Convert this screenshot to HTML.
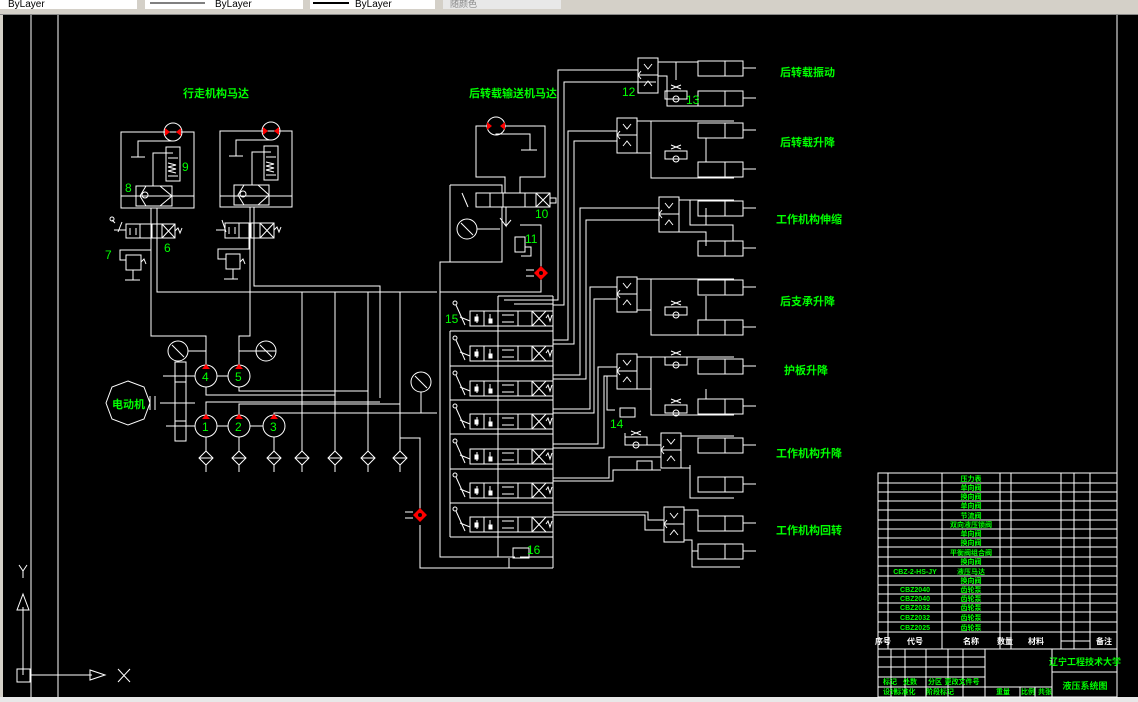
<!DOCTYPE html>
<html><head><meta charset="utf-8"><style>
html,body{margin:0;padding:0;background:#000;width:1138px;height:702px;overflow:hidden}
svg{display:block}
text{font-family:"Liberation Sans","Noto Sans CJK SC",sans-serif}
</style></head><body>
<svg width="1138" height="702" viewBox="0 0 1138 702" xmlns="http://www.w3.org/2000/svg">
<defs>
<g id="valve" fill="none" stroke="#fff">
 <rect x="0" y="0" width="83" height="15"/>
 <line x1="14" y1="0" x2="14" y2="15"/><line x1="28" y1="0" x2="28" y2="15"/>
 <line x1="48" y1="0" x2="48" y2="15"/><line x1="62" y1="0" x2="62" y2="15"/>
 <line x1="62" y1="0" x2="76" y2="15"/><line x1="76" y1="0" x2="62" y2="15"/>
 <line x1="7" y1="3" x2="7" y2="12"/><line x1="20" y1="3" x2="20" y2="12"/>
 <rect x="5" y="6" width="3" height="4" fill="#fff"/><rect x="19" y="8" width="3" height="4" fill="#fff"/>
 <line x1="32" y1="4" x2="44" y2="4"/><line x1="32" y1="11" x2="44" y2="11"/>
 <path d="M76 7 l2 -3 l2 6 l2 -6"/>
 <line x1="-14" y1="-6" x2="-5" y2="14"/><line x1="-10" y1="6" x2="0" y2="10"/>
 <circle cx="-15" cy="-8" r="2"/>
</g>
<g id="cyl" fill="none" stroke="#fff">
 <rect x="0" y="0" width="27" height="15"/><rect x="27" y="0" width="18" height="15"/>
 <line x1="45" y1="7" x2="58" y2="7"/>
</g>
<g id="shut" fill="none" stroke="#fff">
 <rect x="0" y="0" width="20" height="35"/><line x1="0" y1="17" x2="20" y2="17"/>
 <path d="M6 6 l4 5 l4 -5 M6 28 l4 -5 l4 5 M0 17 l3 -4 M0 17 l3 4"/>
</g>
<g id="chk" fill="none" stroke="#fff">
 <path d="M0 0 h22 v8 h-22 z M6 -6 l10 4 M6 -2 l10 -4"/><circle cx="11" cy="8" r="3"/>
</g>
<g id="filt" fill="none" stroke="#fff">
 <path d="M0 -7 L7 0 L0 7 L-7 0 Z M-7 0 H7 M0 7 V14"/>
</g>
<g id="gauge" fill="none" stroke="#fff">
 <circle r="10"/><line x1="-6" y1="-6" x2="6" y2="6"/>
</g>
</defs>

<rect x="0" y="0" width="1138" height="14" fill="#d4d0c8"/>
<rect x="0" y="0" width="137" height="9" fill="#fff"/><text x="8" y="7" font-size="10" fill="#000">ByLayer</text>
<rect x="145" y="0" width="158" height="9" fill="#fff"/><line x1="150" y1="3" x2="205" y2="3" stroke="#000"/><text x="215" y="7" font-size="10" fill="#000">ByLayer</text>
<rect x="310" y="0" width="125" height="9" fill="#fff"/><rect x="313" y="2" width="36" height="2" fill="#000"/><text x="355" y="7" font-size="10" fill="#000">ByLayer</text>
<rect x="443" y="0" width="118" height="9" fill="#e8e8e8"/><text x="450" y="7" font-size="9" fill="#888">随颜色</text>
<rect x="0" y="14" width="3" height="688" fill="#d4d0c8"/>
<rect x="0" y="14" width="1138" height="1" fill="#888"/>
<rect x="0" y="697" width="1138" height="5" fill="#e8e8e8"/>

<g stroke="#fff" fill="none" stroke-width="1">
<line x1="31" y1="15" x2="31" y2="697"/>
<line x1="58" y1="15" x2="58" y2="697"/>
<line x1="1117" y1="15" x2="1117" y2="697"/>
<line x1="23" y1="675" x2="23" y2="607"/><path d="M23 594 l-6 16 h12 z"/>
<rect x="17" y="669" width="13" height="13"/><line x1="30" y1="675" x2="92" y2="675"/><path d="M105 675 l-15 -5 v10 z"/>
<path d="M19 565 l4 6 l4 -6 M23 571 v7 M118 669 l12 13 M130 669 l-12 13"/>

<rect x="121" y="132" width="73" height="76"/><line x1="121" y1="196" x2="194" y2="196"/>
<circle cx="173" cy="132" r="9"/>
<rect x="136" y="186" width="36" height="20"/><path d="M160 186 l12 10 l-12 10 M146 186 l-6 10 l6 10"/><circle cx="145" cy="195" r="3"/>
<rect x="166" y="147" width="14" height="34"/><path d="M168 158 h10 M168 163 l8 2 l-8 2 l8 2 l-8 2 l8 2 M168 176 h10"/>
<path d="M173 141 H138 V157 M131 157 H145 M173 153 H153 V186"/>
<rect x="220" y="131" width="72" height="76"/><line x1="220" y1="196" x2="292" y2="196"/>
<circle cx="271" cy="131" r="9"/>
<rect x="234" y="185" width="35" height="20"/><path d="M258 185 l11 10 l-11 10 M244 185 l-6 10 l6 10"/><circle cx="243" cy="194" r="3"/>
<rect x="264" y="146" width="14" height="34"/><path d="M266 157 h10 M266 162 l8 2 l-8 2 l8 2 l-8 2 l8 2 M266 175 h10"/>
<path d="M271 140 H236 V156 M229 156 H243 M271 152 H252 V185"/>
<rect x="126" y="224" width="49" height="14"/><path d="M140 224 V238 M152 224 V238 M162 224 V238 M162 224 L175 238 M175 224 L162 238 M130 228 V235 M136 228 V235 M175 231 l3 -3 l2 5 l2 -5"/>
<path d="M122 222 L118 232 M114 230 H126 M112 220 l3 3"/><circle cx="112" cy="219" r="2"/>
<rect x="225" y="223" width="49" height="15"/><path d="M239 223 V238 M251 223 V238 M260 223 V238 M260 223 L274 238 M274 223 L260 238 M229 227 V234 M235 227 V234 M274 230 l3 -3 l2 5 l2 -5"/>
<path d="M222 220 L226 232 M216 230 H225"/>
<rect x="126" y="255" width="15" height="15"/><path d="M133 270 V280 M125 280 H140 M126 260 H120 V250 H151 V224 M141 262 l3 -3 l2 5"/>
<rect x="226" y="254" width="14" height="15"/><path d="M233 269 V279 M224 279 H238 M226 259 H218 V249 H249 V223 M240 262 l3 -3 l2 5"/>
<path d="M151 208 V336 H206 V365 M157 208 V292 H437"/>
<path d="M250 207 V336 H239 V365 M254 207 V286 H380 V398"/>
<path d="M302 292 V451 M335 292 V451 M368 292 V451 M400 292 V451"/>
<path d="M206 387 V395 H335 V410 M239 387 V391 H368 V410 M206 415 V402 H380 M239 415 V404 H400 V410 M274 415 V413 H437 M421 392 V413 M400 438 H420 V515"/>
<path d="M206 437 V451 M239 437 V451 M274 437 V451"/>
<path d="M188 351 H206 M276 351 H239 V336"/>
<circle cx="206" cy="376" r="11"/><circle cx="239" cy="376" r="11"/>
<circle cx="206" cy="426" r="11"/><circle cx="239" cy="426" r="11"/><circle cx="274" cy="426" r="11"/>
<path d="M217 376 H228 M217 426 H228 M250 426 H263 M163 376 H195 M166 426 H195 M160 403 H195"/>
<rect x="175" y="362" width="11" height="79"/><path d="M175 382 H186 M175 421 H186"/>
<polygon points="128,381 144,387 150,403 144,419 128,425 112,419 106,403 112,387"/>
<path d="M150 396 V410 M155 396 V410"/>
<use href="#gauge" x="178" y="351"/><use href="#gauge" x="266" y="351"/><use href="#gauge" x="421" y="382"/>
<use href="#filt" x="206" y="458"/><use href="#filt" x="239" y="458"/><use href="#filt" x="274" y="458"/>
<use href="#filt" x="302" y="458"/><use href="#filt" x="335" y="458"/><use href="#filt" x="368" y="458"/><use href="#filt" x="400" y="458"/>

<circle cx="496" cy="126" r="9"/>
<path d="M487 126 H476 V177 H505 V193 M505 126 H545 V177 H520 V193 M496 135 V134 H530 V150 M521 150 H537"/>
<rect x="476" y="193" width="74" height="14"/><path d="M490 193 V207 M503 193 V207 M525 193 V207 M536 193 V207 M536 193 L550 207 M550 193 L536 207 M550 198 h6 v5 h-6"/>
<path d="M462 193 l6 14 M450 185 H502 V193 M450 185 V262 M502 207 V262 H440 V557 H470 M506 207 V226 L500 218 M506 226 l5 -6"/>
<use href="#gauge" x="467" y="229"/><path d="M477 229 H500"/>
<rect x="515" y="237" width="10" height="15"/><path d="M520 225 H541 V268 M525 247 h6 v9 h-10 M440 292 H541 V278"/>
<use href="#valve" x="470" y="311"/><use href="#valve" x="470" y="346"/><use href="#valve" x="470" y="381"/>
<use href="#valve" x="470" y="414"/><use href="#valve" x="470" y="449"/><use href="#valve" x="470" y="483"/><use href="#valve" x="470" y="517"/>
<path d="M450 331 V537 M450 331 H553 M450 366 H553 M450 400 H553 M450 434 H553 M450 469 H553 M450 503 H553 M450 537 H553 M498 296 V557 M553 296 V568 M498 296 H553 M504 300 H553 M514 304 H553 M440 557 H515 M520 557 H553"/>
<rect x="513" y="548" width="16" height="10"/><path d="M509 558 V568 H520 M420 525 V568 H553"/>
<path d="M553 300 H558 V70 H638 M553 305 H564 V82 H656"/>
<path d="M553 340 H568 V131 H617 M553 344 H574 V141 H617"/>
<path d="M553 375 H580 V208 H659 M553 379 H586 V220 H659"/>
<path d="M553 409 H590 V287 H617 M553 413 H594 V299 H617"/>
<path d="M553 444 H598 V367 H617 M553 448 H604 V376 H617 M607 376 V410 H615"/>
<path d="M553 478 H609 V457 H661 M553 481 H613 V470 H661"/>
<path d="M553 512 H648 V520 H664 M553 515 H645 V530 H664"/>
<use href="#shut" x="638" y="58"/><use href="#shut" x="617" y="118"/><use href="#shut" x="659" y="197"/>
<use href="#shut" x="617" y="277"/><use href="#shut" x="617" y="354"/><use href="#shut" x="661" y="433"/><use href="#shut" x="664" y="507"/>
<use href="#cyl" x="698" y="61"/><use href="#cyl" x="698" y="91"/>
<use href="#cyl" x="698" y="123"/><use href="#cyl" x="698" y="162"/>
<use href="#cyl" x="698" y="201"/><use href="#cyl" x="698" y="241"/>
<use href="#cyl" x="698" y="280"/><use href="#cyl" x="698" y="320"/>
<use href="#cyl" x="698" y="359"/><use href="#cyl" x="698" y="399"/>
<use href="#cyl" x="698" y="438"/><use href="#cyl" x="698" y="477"/>
<use href="#cyl" x="698" y="516"/><use href="#cyl" x="698" y="544"/>
<path d="M658 62 H698 M658 76 H667 V106 H740 M676 62 V80"/>
<path d="M637 121 H734 M651 121 V153 H637 M651 128 V178 H734 M706 138 V162"/>
<path d="M679 200 H734 M679 232 H706 V246 M690 200 V225 H706 V208 M706 225 H733 V241"/>
<path d="M637 279 H734 M651 279 V310 H637 M651 310 V335 H734 M706 296 V320"/>
<path d="M637 357 H734 M651 357 V389 H637 M651 389 V415 H734 M706 389 V399"/>
<path d="M681 436 H734 M681 468 H690 V498 H734 M690 465 V484 M661 445 H625 V433"/>
<path d="M684 510 H698 V523 M684 540 H692 V551 H698 M692 540 V567 H740"/>
<use href="#chk" x="665" y="91"/><use href="#chk" x="665" y="151"/><use href="#chk" x="665" y="307"/>
<use href="#chk" x="665" y="357"/><use href="#chk" x="665" y="405"/><use href="#chk" x="625" y="437"/>
<rect x="620" y="408" width="15" height="9"/><rect x="637" y="461" width="15" height="9"/>

<rect x="878" y="473" width="239" height="224"/>
<path d="M878 483H1117M878 492H1117M878 501H1117M878 510H1117M878 520H1117M878 529H1117M878 538H1117M878 547H1117M878 557H1117M878 566H1117M878 576H1117M878 585H1117M878 594H1117M878 603H1117M878 612H1117M878 622H1117M878 632H1117M878 649H1117"/>
<path d="M888 473V649M942 473V649M1000 473V649M1011 473V649M1061 473V649M1074 473V649M1090 473V649M1061 641H1090"/>
<path d="M985 649V697M1052 649V697M1052 672H1117M878 657H985M878 667H985M878 677H985M878 687H985M985 687H1052M891 649V697M905 649V697M926 649V697M948 649V697M963 649V697M1020 687V697M1035 687V697"/>
</g>

<g fill="#f00">
<path d="M165 128 l5 4 l-5 4 z M181 128 l-5 4 l5 4 z M263 127 l5 4 l-5 4 z M279 127 l-5 4 l5 4 z"/>
<path d="M487 122 l5 4 l-5 4 z M505 122 l-5 4 l5 4 z"/>
<path d="M541 266 l7 7 l-7 7 l-7 -7 z M420 508 l7 7 l-7 7 l-7 -7 z"/>
<path d="M202 369 l4 -5 l4 5 z M235 369 l4 -5 l4 5 z M202 419 l4 -5 l4 5 z M235 419 l4 -5 l4 5 z M270 419 l4 -5 l4 5 z"/>
</g>
<circle cx="541" cy="273" r="2" fill="#000"/><circle cx="420" cy="515" r="2" fill="#000"/>
<path d="M526 270 h8 M526 276 h8 M405 512 h8 M405 518 h8" stroke="#fff"/>

<g fill="#00ff00" font-weight="bold">
<text x="183" y="97" font-size="11">行走机构马达</text>
<text x="469" y="97" font-size="11">后转载输送机马达</text>
<text x="780" y="76" font-size="11">后转载振动</text>
<text x="780" y="146" font-size="11">后转载升降</text>
<text x="776" y="223" font-size="11">工作机构伸缩</text>
<text x="780" y="305" font-size="11">后支承升降</text>
<text x="784" y="374" font-size="11">护板升降</text>
<text x="776" y="457" font-size="11">工作机构升降</text>
<text x="776" y="534" font-size="11">工作机构回转</text>
<text x="112" y="408" font-size="11">电动机</text>
<g font-size="12" font-family="Liberation Serif,serif" font-weight="normal">
<text x="182" y="171">9</text><text x="125" y="192">8</text><text x="105" y="259">7</text><text x="164" y="252">6</text>
<text x="535" y="218">10</text><text x="525" y="243">11</text><text x="622" y="96">12</text><text x="686" y="104">13</text>
<text x="610" y="428">14</text><text x="445" y="323">15</text><text x="527" y="554">16</text>
<text x="202" y="381">4</text><text x="235" y="381">5</text><text x="202" y="431">1</text><text x="235" y="431">2</text><text x="270" y="431">3</text>
</g>
<g font-size="7" text-anchor="middle">
<text x="971" y="481">压力表</text><text x="971" y="490">单向阀</text><text x="971" y="499">换向阀</text><text x="971" y="508">单向阀</text>
<text x="971" y="518">节流阀</text><text x="971" y="527">双向液压锁阀</text><text x="971" y="536">单向阀</text><text x="971" y="545">换向阀</text>
<text x="971" y="555">平衡阀组合阀</text><text x="971" y="564">换向阀</text><text x="971" y="574">液压马达</text><text x="971" y="583">换向阀</text>
<text x="971" y="592">齿轮泵</text><text x="971" y="601">齿轮泵</text><text x="971" y="610">齿轮泵</text><text x="971" y="620">齿轮泵</text><text x="971" y="630">齿轮泵</text>
<text x="915" y="574">CBZ-2-HS-JY</text><text x="915" y="592">CBZ2040</text><text x="915" y="601">CBZ2040</text><text x="915" y="610">CBZ2032</text><text x="915" y="620">CBZ2032</text><text x="915" y="630">CBZ2025</text>
<text x="1085" y="665" font-size="9">辽宁工程技术大学</text><text x="1085" y="689" font-size="9">液压系统图</text>
<text x="890" y="684">标记</text><text x="910" y="684">处数</text><text x="935" y="684">分区</text><text x="962" y="684">更改文件号</text>
<text x="890" y="694">设计</text><text x="905" y="694">标准化</text><text x="940" y="694">阶段标记</text><text x="1003" y="694">重量</text><text x="1028" y="694">比例</text><text x="1045" y="694">共张</text>
</g>
</g>
<g fill="#fff" font-size="8" text-anchor="middle" font-weight="bold">
<text x="883" y="644">序号</text><text x="915" y="644">代号</text><text x="971" y="644">名称</text><text x="1005" y="644">数量</text><text x="1036" y="644">材料</text><text x="1104" y="644">备注</text>
</g>
</svg>
</body></html>
